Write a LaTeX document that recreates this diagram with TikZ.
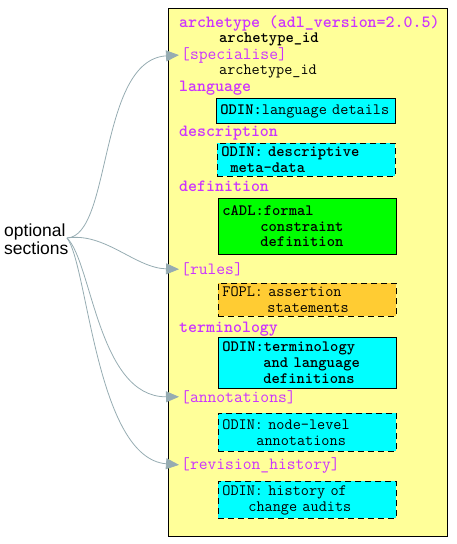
\documentclass[tikz,border=0pt]{standalone}
\usepackage{fontspec}
\setmainfont{Liberation Sans}
\usetikzlibrary{arrows.meta}

\definecolor{paleyellow}{RGB}{255,255,153}
\definecolor{secmag}{RGB}{204,51,255}
\definecolor{odincyan}{RGB}{0,255,255}
\definecolor{adlgreen}{RGB}{0,255,0}
\definecolor{foplorange}{RGB}{255,204,51}
\definecolor{arrowgrey}{RGB}{150,172,178}

\begin{document}
\begin{tikzpicture}[x=1pt,y=-1pt,>={Triangle[length=13pt,width=11pt]},
  sec/.style={anchor=base west,inner sep=0,text=secmag,font=\ttfamily\bfseries\fontsize{17.1}{18}\selectfont},
  optsec/.style={sec,font=\ttfamily\fontsize{17.1}{18}\selectfont},
  idtext/.style={anchor=base west,inner sep=0,font=\ttfamily\fontsize{15.8}{16}\selectfont},
  partbox/.style={anchor=north west,draw=black,thick,inner xsep=4pt,inner ysep=0,
    text width=170pt,align=left,font=\ttfamily\fontsize{15.8}{16}\selectfont},
  optbox/.style={partbox,dashed,dash pattern=on 6pt off 4pt},
  link/.style={->,arrowgrey,line width=0.8pt,shorten >=2pt}]
\useasboundingbox (0,0) rectangle (456,544);
\filldraw[fill=paleyellow,draw=black] (168,8) rectangle (447,536);

% sections of the archetype
\node[sec] (arch) at (179,27.5) {archetype (adl\_version=2.0.5)};
\node[idtext,font=\ttfamily\bfseries\fontsize{15.8}{16}\selectfont] (archid) at (219,42.5) {archetype\_id};
\node[optsec] (spec) at (181,59) {[specialise]};
\node[idtext] (parentid) at (219,74) {archetype\_id};
\node[sec] (lang) at (179,91) {language};
\node[partbox,fill=odincyan,minimum height=25,text width=171pt] (langbox) at (216,98)
  {\textbf{ODIN:}language details};
\node[sec] (desc) at (179,136) {description};
\node[optbox,fill=odincyan,minimum height=33,font=\ttfamily\bfseries\fontsize{15.8}{16}\selectfont] (descbox) at (217,143)
  {ODIN: descriptive\\\hspace*{9pt}meta-data};
\node[sec] (defn) at (179,191) {definition};
\node[partbox,fill=adlgreen,minimum height=56,font=\ttfamily\bfseries\fontsize{15.8}{15.5}\selectfont] (defnbox) at (218,198)
  {cADL:formal\\\hspace*{38pt}constraint\\\hspace*{38pt}definition};
\node[optsec] (rules) at (181,274.5) {[rules]};
\node[optbox,fill=foplorange,minimum height=33] (rulesbox) at (218,283)
  {FOPL: assertion\\\hspace*{45pt}statements};
\node[sec] (term) at (179,332) {terminology};
\node[partbox,fill=odincyan,minimum height=51,font=\ttfamily\bfseries\fontsize{15.8}{16}\selectfont] (termbox) at (218,337)
  {ODIN:terminology\\\hspace*{41pt}and language\\\hspace*{41pt}definitions};
\node[optsec] (annot) at (181,402) {[annotations]};
\node[optbox,fill=odincyan,minimum height=38] (annotbox) at (218,413)
  {ODIN: node-level\\\hspace*{34pt}annotations};
\node[optsec] (revhist) at (181,469) {[revision\_history]};
\node[optbox,fill=odincyan,minimum height=37] (revbox) at (218,481)
  {ODIN: history of\\\hspace*{26pt}change audits};

% optional sections
\node[anchor=west,align=left,inner sep=0,font=\fontsize{17.5}{18}\selectfont] (opt) at (4,239) {optional\\sections};
\coordinate (src) at (67,238);
\draw[link] (src) .. controls (112,236) and (98,60) .. (spec.west);
\draw[link] (src) .. controls (105,232) and (135,268) .. (rules.west);
\draw[link] (src) .. controls (92,262) and (98,397) .. (annot.west);
\draw[link] (src) .. controls (88,265) and (96,458) .. (revhist.west);
\end{tikzpicture}
\end{document}
